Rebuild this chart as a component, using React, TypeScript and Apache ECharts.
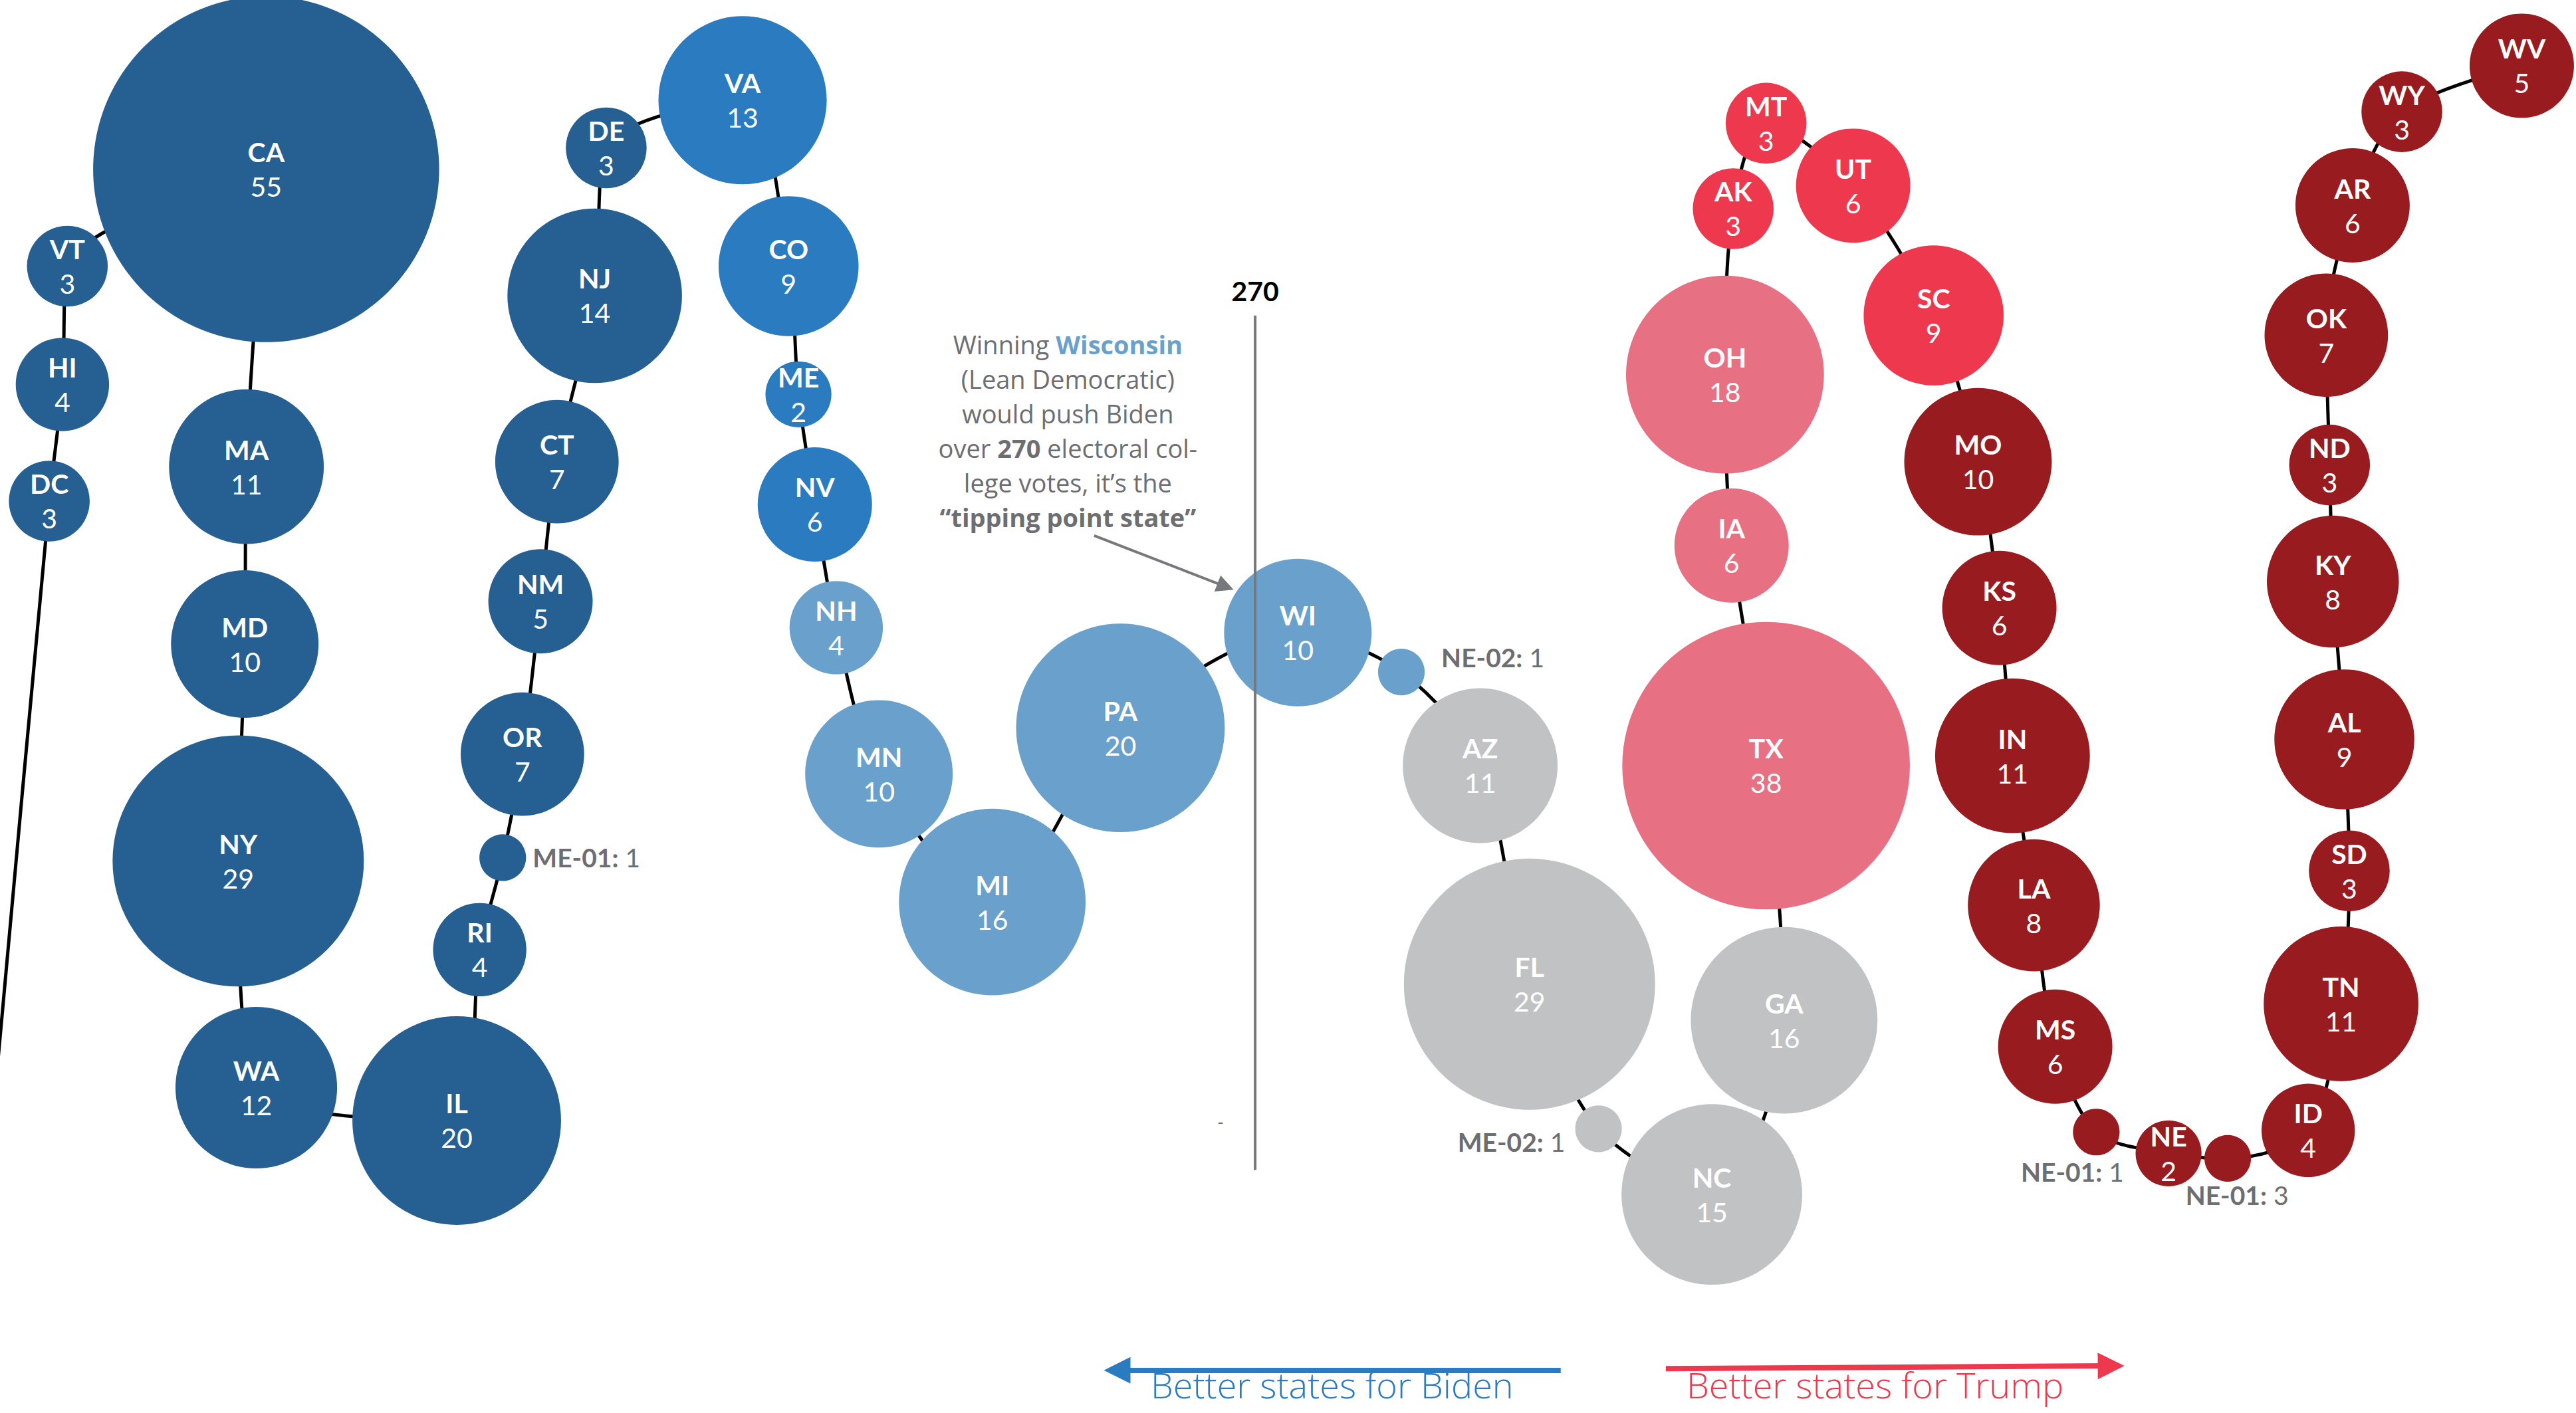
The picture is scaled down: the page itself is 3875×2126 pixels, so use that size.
import React, { useEffect, useRef } from 'react';
import * as echarts from 'echarts';

const W = 3875;
const H = 2126;
// layout units (the chart is laid out on a 1568 x 860 board)
const BX = 1568;
const BY = 860;

const states = ['DC','HI','VT','CA','MA','MD','NY','WA','IL','RI','ME-01','OR','NM','CT','NJ','DE','VA','CO','ME','NV','NH','MN','MI','PA','WI','NE-02','AZ','FL','ME-02','NC','GA','TX','IA','OH','AK','MT','UT','SC','MO','KS','IN','LA','MS','NE-01','NE','NE-03','ID','TN','SD','AL','KY','ND','OK','AR','WY','WV'];
const votes = [3,4,3,55,11,10,29,12,20,4,1,7,5,7,14,3,13,9,2,6,4,10,16,20,10,1,11,29,1,15,16,38,6,18,3,3,6,9,10,6,11,8,6,1,2,1,4,11,3,9,8,3,7,6,3,5];
const ratings = ['sD','sD','sD','sD','sD','sD','sD','sD','sD','sD','sD','sD','sD','sD','sD','sD','lkD','lkD','lkD','lkD','lnD','lnD','lnD','lnD','lnD','lnD','t','t','t','t','t','lnR','lnR','lnR','lkR','lkR','lkR','lkR','sR','sR','sR','sR','sR','sR','sR','sR','sR','sR','sR','sR','sR','sR','sR','sR','sR','sR'];
const xPos = [30,38,41,162,150,149,145,156,278,292,306,318,329,339,362,369,452,480,486,496,509,535,604,682,790,853,901,931,973,1042,1086,1075,1054,1050,1055,1075,1128,1177,1204,1217,1225,1238,1251,1276,1320,1356,1405,1425,1430,1427,1420,1418,1416,1432,1462,1535];
const yPos = [305,234,162,103,284,392,524,662,682,578,522,459,366,281,180,90,61,162,240,307,382,471,549,443,385,409,466,599,687,727,621,466,332,228,127,75,113,192,281,370,460,551,637,689,702,705,688,611,530,450,354,283,204,125,68,40];
const leadIn = [-8, 720];
// district labels as printed on the graphic
const districtLabels: Record<string, [string, string]> = {
  'ME-01': ['ME-01:', '1'],
  'NE-02': ['NE-02:', '1'],
  'ME-02': ['ME-02:', '1'],
  'NE-01': ['NE-01:', '1'],
  'NE-03': ['NE-01:', '3'],
};

const palette: Record<string, string> = {
  sD: '#265f92',
  lkD: '#2b7bc0',
  lnD: '#6aa1cc',
  t: '#c1c2c4',
  lnR: '#e87083',
  lkR: '#ee384e',
  sR: '#981c1f',
};

const FONT = 'Lato, "Open Sans", sans-serif';
const FONT2 = '"Open Sans", Lato, sans-serif';
const GRAY = '#6d6e71';

// line 270
const tippingX = [764, 764];
const tippingY = [192, 712];

export default function App() {
  const ref = useRef<HTMLDivElement>(null);
  useEffect(() => {
    document.body.style.margin = '0';
    const chart = echarts.init(ref.current as HTMLDivElement, null, { renderer: 'svg' });
    const S = W / BX;

    const extLabel: Record<string, any> = {
      'ME-01': { position: 'right', distance: 10, offset: [0, 0] },
      'NE-02': { position: 'right', distance: 25, offset: [0, -22] },
      'ME-02': { position: 'left', distance: 15, offset: [0, 20] },
      'NE-01': { position: 'inside', offset: [-36, 60] },
      'NE-03': { position: 'inside', offset: [14, 55] },
    };

    const data = states.map((s, i) => {
      const ext = extLabel[s];
      const item: any = {
        name: s,
        value: [xPos[i], yPos[i], votes[i]],
        itemStyle: { color: palette[ratings[i]], opacity: 1 },
      };
      if (ext) {
        const t = districtLabels[s];
        item.label = {
          show: true,
          position: ext.position,
          distance: ext.distance,
          offset: ext.offset,
          formatter: '{c|' + t[0] + '}{d|\u00a0' + t[1] + '}',
        };
      }
      return item;
    });

    const richIn = {
      a: { fontFamily: FONT, fontWeight: 'bold', fontSize: 41, color: '#fff', lineHeight: 52 },
      b: { fontFamily: FONT, fontWeight: 'normal', fontSize: 41, color: '#fff', lineHeight: 52 },
      c: { fontFamily: FONT, fontWeight: 'bold', fontSize: 39, color: GRAY, lineHeight: 48 },
      d: { fontFamily: FONT, fontWeight: 'normal', fontSize: 39, color: GRAY, lineHeight: 48 },
    };

    const path = [leadIn].concat(states.map((_, i) => [xPos[i], yPos[i]]));

    const option: any = {
      animation: false,
      backgroundColor: '#fff',
      grid: { left: 0, right: 0, top: 0, bottom: 0 },
      xAxis: { type: 'value', min: 0, max: BX, show: false },
      yAxis: { type: 'value', min: 0, max: BY, inverse: true, show: false },
      series: [
        {
          type: 'line',
          data: path,
          smooth: 0.3,
          symbol: 'none',
          lineStyle: { color: '#000', width: 5 },
          z: 1,
          silent: true,
        },
        {
          type: 'scatter',
          data,
          symbol: 'circle',
          symbolSize: (v: number[]) => 2 * 14.2 * Math.sqrt(v[2]) * S,
          itemStyle: { opacity: 1 },
          z: 2,
          label: {
            show: true,
            position: 'inside',
            formatter: (p: any) => '{a|' + p.name + '}\n{b|' + p.value[2] + '}',
            rich: richIn,
          },
        },
        {
          type: 'line',
          data: tippingX.map((x, i) => [x, tippingY[i]]),
          symbol: 'none',
          lineStyle: { color: '#77787b', width: 4 },
          z: 5,
          silent: true,
        },
        {
          type: 'lines',
          coordinateSystem: 'cartesian2d',
          z: 6,
          silent: true,
          data: [
            { coords: [[666, 326], [746, 357]], symbolSize: [22, 26], lineStyle: { color: '#77787b', width: 4 } },
            { coords: [[950, 834], [680, 834]], symbolSize: [84, 40], lineStyle: { color: '#2b7bc0', width: 8 } },
            { coords: [[1014, 833], [1285, 831.3]], symbolSize: [84, 40], lineStyle: { color: '#ee384e', width: 8 } },
          ],
          symbol: ['none', 'triangle'],
          lineStyle: { opacity: 1, curveness: 0 },
        },
      ],
      graphic: [
        {
          type: 'text',
          x: 764 * S,
          y: 177 * (H / BY),
          z: 10,
          style: {
            text: '270',
            fontFamily: FONT,
            fontWeight: 'bold',
            fontSize: 41,
            fill: '#000',
            align: 'center',
            verticalAlign: 'middle',
          },
        },
        {
          type: 'text',
          x: 650 * S,
          y: 262 * (H / BY),
          z: 10,
          style: {
            text:
              'Winning {w|Wisconsin}\n(Lean Democratic)\nwould push Biden\nover {b|270} electoral col-\nlege votes, it\u2019s the\n{b|\u201ctipping point state\u201d}',
            fontFamily: FONT2,
            fontSize: 38,
            fill: GRAY,
            align: 'center',
            verticalAlign: 'middle',
            lineHeight: 52,
            rich: {
              w: { fontFamily: FONT2, fontWeight: 'bold', fontSize: 38, fill: '#6aa1cc', lineHeight: 52 },
              b: { fontFamily: FONT2, fontWeight: 'bold', fontSize: 38, fill: GRAY, lineHeight: 52 },
            },
          },
        },
        {
          type: 'text',
          x: 743 * S,
          y: 683 * (H / BY),
          style: { text: '-', fontFamily: FONT, fontSize: 26, fill: GRAY, align: 'center', verticalAlign: 'middle' },
        },
        {
          type: 'text',
          x: 1731,
          y: 2110,
          style: {
            text: 'Better states for Biden',
            fontFamily: FONT2,
            fontWeight: 300,
            fontSize: 54,
            fill: '#2b7bc0',
            align: 'left',
            verticalAlign: 'bottom',
          },
        },
        {
          type: 'text',
          x: 2537,
          y: 2110,
          style: {
            text: 'Better states for Trump',
            fontFamily: FONT2,
            fontWeight: 300,
            fontSize: 54,
            fill: '#ee384e',
            align: 'left',
            verticalAlign: 'bottom',
          },
        },
      ],
    };
    chart.setOption(option);
    return () => chart.dispose();
  }, []);
  return <div ref={ref} style={{ width: W, height: H }} />;
}
